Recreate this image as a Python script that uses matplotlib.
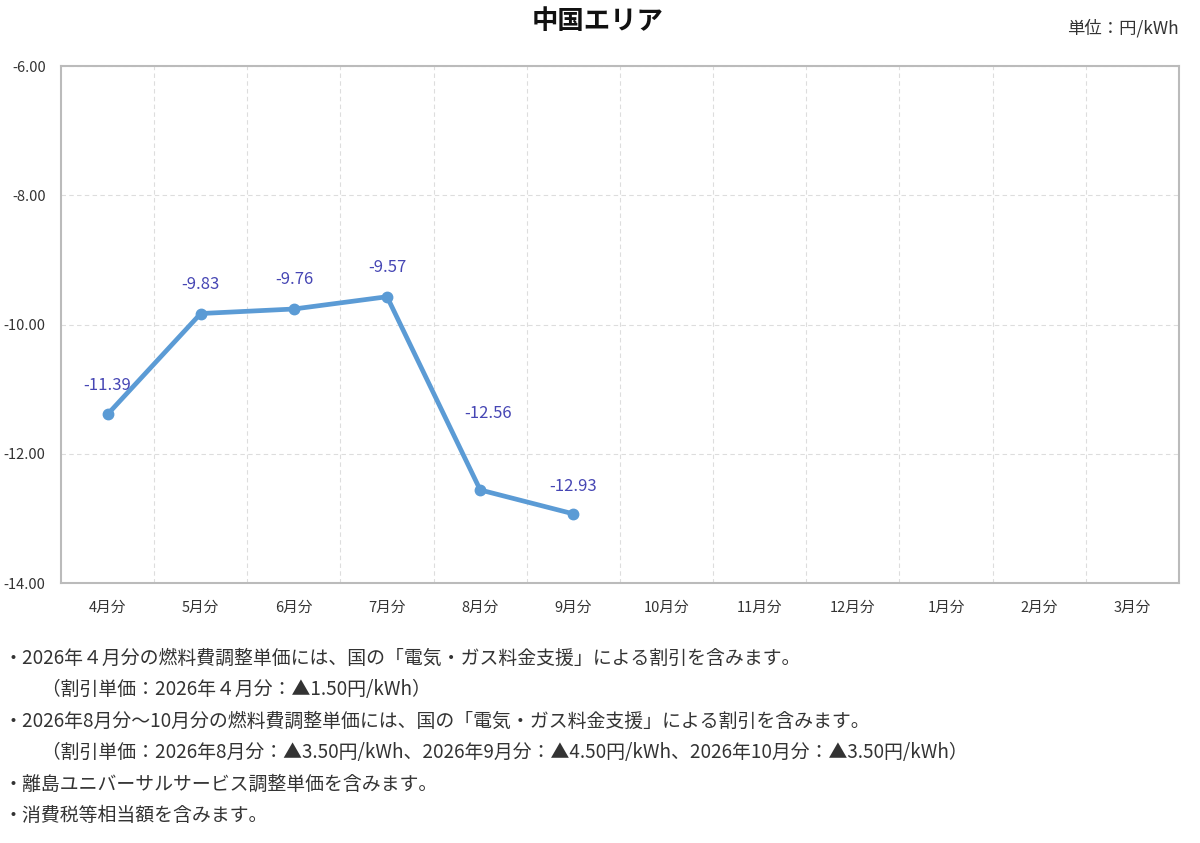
import numpy as np
import matplotlib.pyplot as plt

plt.rcParams['font.family'] = ['Noto Sans CJK JP', 'DejaVu Sans']

months = ['4月分', '5月分', '6月分', '7月分', '8月分', '9月分',
          '10月分', '11月分', '12月分', '1月分', '2月分', '3月分']
values = [-11.39, -9.83, -9.76, -9.57, -12.56, -12.93]
y_ticks = [-14, -12, -10, -8, -6]

notes = [
    '・2026年４月分の燃料費調整単価には、国の「電気・ガス料金支援」による割引を含みます。',
    '　　（割引単価：2026年４月分：▲1.50円/kWh）',
    '・2026年8月分～10月分の燃料費調整単価には、国の「電気・ガス料金支援」による割引を含みます。',
    '　　（割引単価：2026年8月分：▲3.50円/kWh、2026年9月分：▲4.50円/kWh、2026年10月分：▲3.50円/kWh）',
    '・離島ユニバーサルサービス調整単価を含みます。',
    '・消費税等相当額を含みます。',
]

fig = plt.figure(figsize=(12, 8.43), dpi=100)
ax = fig.add_axes([0.0508, 0.3084, 0.9317, 0.6133])

x = np.arange(len(values))
ax.plot(x, values, color='#5b9bd5', lw=3.4, marker='o', ms=7.5,
        solid_capstyle='round', zorder=3)
# label offsets in points (8月分 label sits higher to clear the line)
label_dy = [21, 21, 21, 21, 55, 20]
label_dx = [0, 0, 0, 0, 6, 0]
for xi, v, dx, dy in zip(x, values, label_dx, label_dy):
    ax.annotate(f'{v:.2f}', (xi, v), xytext=(dx, dy), textcoords='offset points',
                ha='center', va='center', fontsize=12, color='#4646b4')

ax.set_xlim(-0.5, len(months) - 0.5)
ax.set_ylim(-14, -6)
ax.set_yticks(y_ticks)
ax.set_yticklabels([f'{t:.2f}' for t in y_ticks])
ax.set_xticks(np.arange(len(months)))
ax.set_xticklabels(months)
ax.set_xticks(np.arange(0.5, len(months) - 0.5), minor=True)
ax.tick_params(axis='both', which='both', length=0, labelsize=10.5,
               colors='#333333')
ax.tick_params(axis='x', pad=13)
ax.tick_params(axis='y', pad=11)
ax.grid(True, axis='y', which='major', ls=(0, (4, 3)), color='#dddddd', lw=0.8)
ax.grid(True, axis='x', which='minor', ls=(0, (4, 3)), color='#dddddd', lw=0.8)
for s in ax.spines.values():
    s.set_color('#bbbbbb')
    s.set_linewidth(1.5)

fig.text(0.498, 0.975, '中国エリア', ha='center', va='center',
         fontsize=19, fontweight='bold', color='#111111')
fig.text(0.982, 0.966, '単位：円/kWh', ha='right', va='center',
         fontsize=12.5, color='#333333')

y0 = 1 - 658 / 843
for i, t in enumerate(notes):
    fig.text(0.003, y0 - i * 31.5 / 843, t, ha='left', va='center',
             fontsize=13.6, color='#333333')

fig.savefig('out.png')
